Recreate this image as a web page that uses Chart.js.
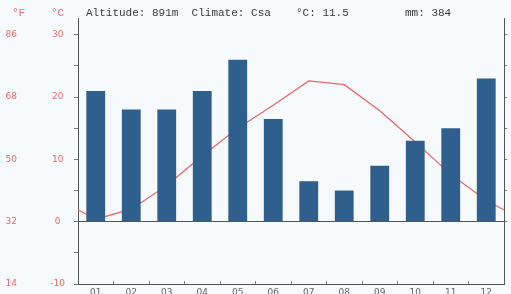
<!DOCTYPE html>
<html>
<head>
<meta charset="utf-8">
<script src="https://cdn.jsdelivr.net/npm/chart.js@4/dist/chart.umd.min.js"></script>
<style>
  html, body { margin: 0; padding: 0; background: #f6fafc; }
  #wrap { width: 511px; height: 294px; }
</style>
</head>
<body>
<div id="wrap"><canvas id="climate"></canvas></div>
<script>
// -- climate diagram data
var months = ['01','02','03','04','05','06','07','08','09','10','11','12'];
var precip = [42, 36, 36, 42, 52, 33, 13, 10, 18, 26, 30, 46];   // mm
var temps = [0.4, 2, 5.8, 10.6, 15, 18.7, 22.6, 22, 17.8, 12.8, 7.6, 3.4]; // °C
var cLabels = [-10, 0, 10, 20, 30];
var altitude = '891m';
var climate = 'Csa';
var meanTemp = '11.5';
var totalPrecip = '384';

var tMin = -10, tMax = 32.7;
var red = '#e86b6b';

// line wraps round the year: Dec before Jan, Jan after Dec
var tempPoints = [{x: 0, y: temps[11]}];
temps.forEach(function (t, i) { tempPoints.push({x: i + 1, y: t}); });
tempPoints.push({x: 13, y: temps[0]});

var header = {
  id: 'header',
  beforeDraw: function (chart) {
    var c = chart.ctx;
    c.save();
    c.fillStyle = '#f6fafc';
    c.fillRect(0, 0, chart.width, chart.height);
    c.restore();
  },
  afterDraw: function (chart) {
    var c = chart.ctx;
    c.save();
    c.font = '11px "Liberation Mono"';
    c.textBaseline = 'middle';
    c.fillStyle = red;
    c.fillText('°F', 12, 13);
    c.fillText('°C', 51, 13);
    c.fillStyle = '#3a3a3a';
    c.fillText('Altitude: ' + altitude + '  Climate: ' + climate, 86, 13);
    c.fillText('°C: ' + meanTemp, 296, 13);
    c.fillText('mm: ' + totalPrecip, 405, 13);
    c.restore();
  }
};

// keep the side labels from pushing the plot area in
function fixWidth(w) {
  return function (s) {
    s.width = w;
    s.paddingTop = 0;
    s.paddingBottom = 0;
  };
}

var chart = new Chart(document.getElementById('climate'), {
  type: 'bar',
  data: {
    labels: months,
    datasets: [{
      data: precip,
      xAxisID: 'x',
      yAxisID: 'y2',
      backgroundColor: '#2f5f8c',
      barPercentage: 0.53,
      categoryPercentage: 1,
      grouped: false
    }, {
      type: 'line',
      data: tempPoints,
      xAxisID: 'xLine',
      yAxisID: 'y',
      borderColor: '#e86868',
      borderWidth: 1.3,
      pointRadius: 0,
      tension: 0
    }]
  },
  options: {
    responsive: true,
    maintainAspectRatio: false,
    animation: false,
    events: [],
    layout: { padding: { top: 18, left: 0, right: 0, bottom: 0 } },
    plugins: { legend: { display: false }, tooltip: { enabled: false } },
    scales: {
      x: {
        grid: { drawOnChartArea: false, color: '#888', tickLength: -3 },
        border: { color: '#555' },
        ticks: { color: '#666', font: { family: 'DejaVu Sans', size: 9 }, padding: 6, maxRotation: 0 },
        afterFit: function (s) { s.height = 10; }
      },
      xLine: { type: 'linear', display: false, offset: false, min: 0.5, max: 12.5 },
      y: {
        position: 'left',
        min: tMin,
        max: tMax,
        grid: {
          color: function (c) { return c.tick && c.tick.value === 0 ? '#555' : 'rgba(0,0,0,0)'; },
          tickColor: '#777',
          tickLength: 4
        },
        border: { color: '#555' },
        ticks: {
          stepSize: 5,
          includeBounds: false,
          color: red,
          crossAlign: 'center',
          padding: 9,
          font: { family: 'DejaVu Sans', size: 9 },
          callback: function (v) { return cLabels.indexOf(v) >= 0 ? v : ''; }
        },
        afterFit: fixWidth(40)
      },
      yF: {
        position: 'left',
        weight: 1,
        min: tMin * 1.8 + 32,
        max: tMax * 1.8 + 32,
        grid: { display: false },
        border: { display: false },
        afterBuildTicks: function (s) {
          s.ticks = cLabels.map(function (c) { return {value: c * 1.8 + 32}; });
        },
        ticks: {
          color: red,
          crossAlign: 'center',
          padding: 13,
          font: { family: 'DejaVu Sans', size: 9 },
          callback: function (v) { return Math.round(v); }
        },
        afterFit: fixWidth(38)
      },
      y2: {
        position: 'right',
        min: tMin * 2,
        max: tMax * 2,
        grid: {
          drawOnChartArea: false,
          tickColor: function (c) { return c.tick && c.tick.value >= 0 ? '#777' : 'rgba(0,0,0,0)'; },
          tickLength: 3
        },
        border: { color: '#555' },
        ticks: { stepSize: 10, includeBounds: false, display: false },
        afterFit: fixWidth(7)
      }
    }
  },
  plugins: [header]
});
</script>
</body>
</html>
